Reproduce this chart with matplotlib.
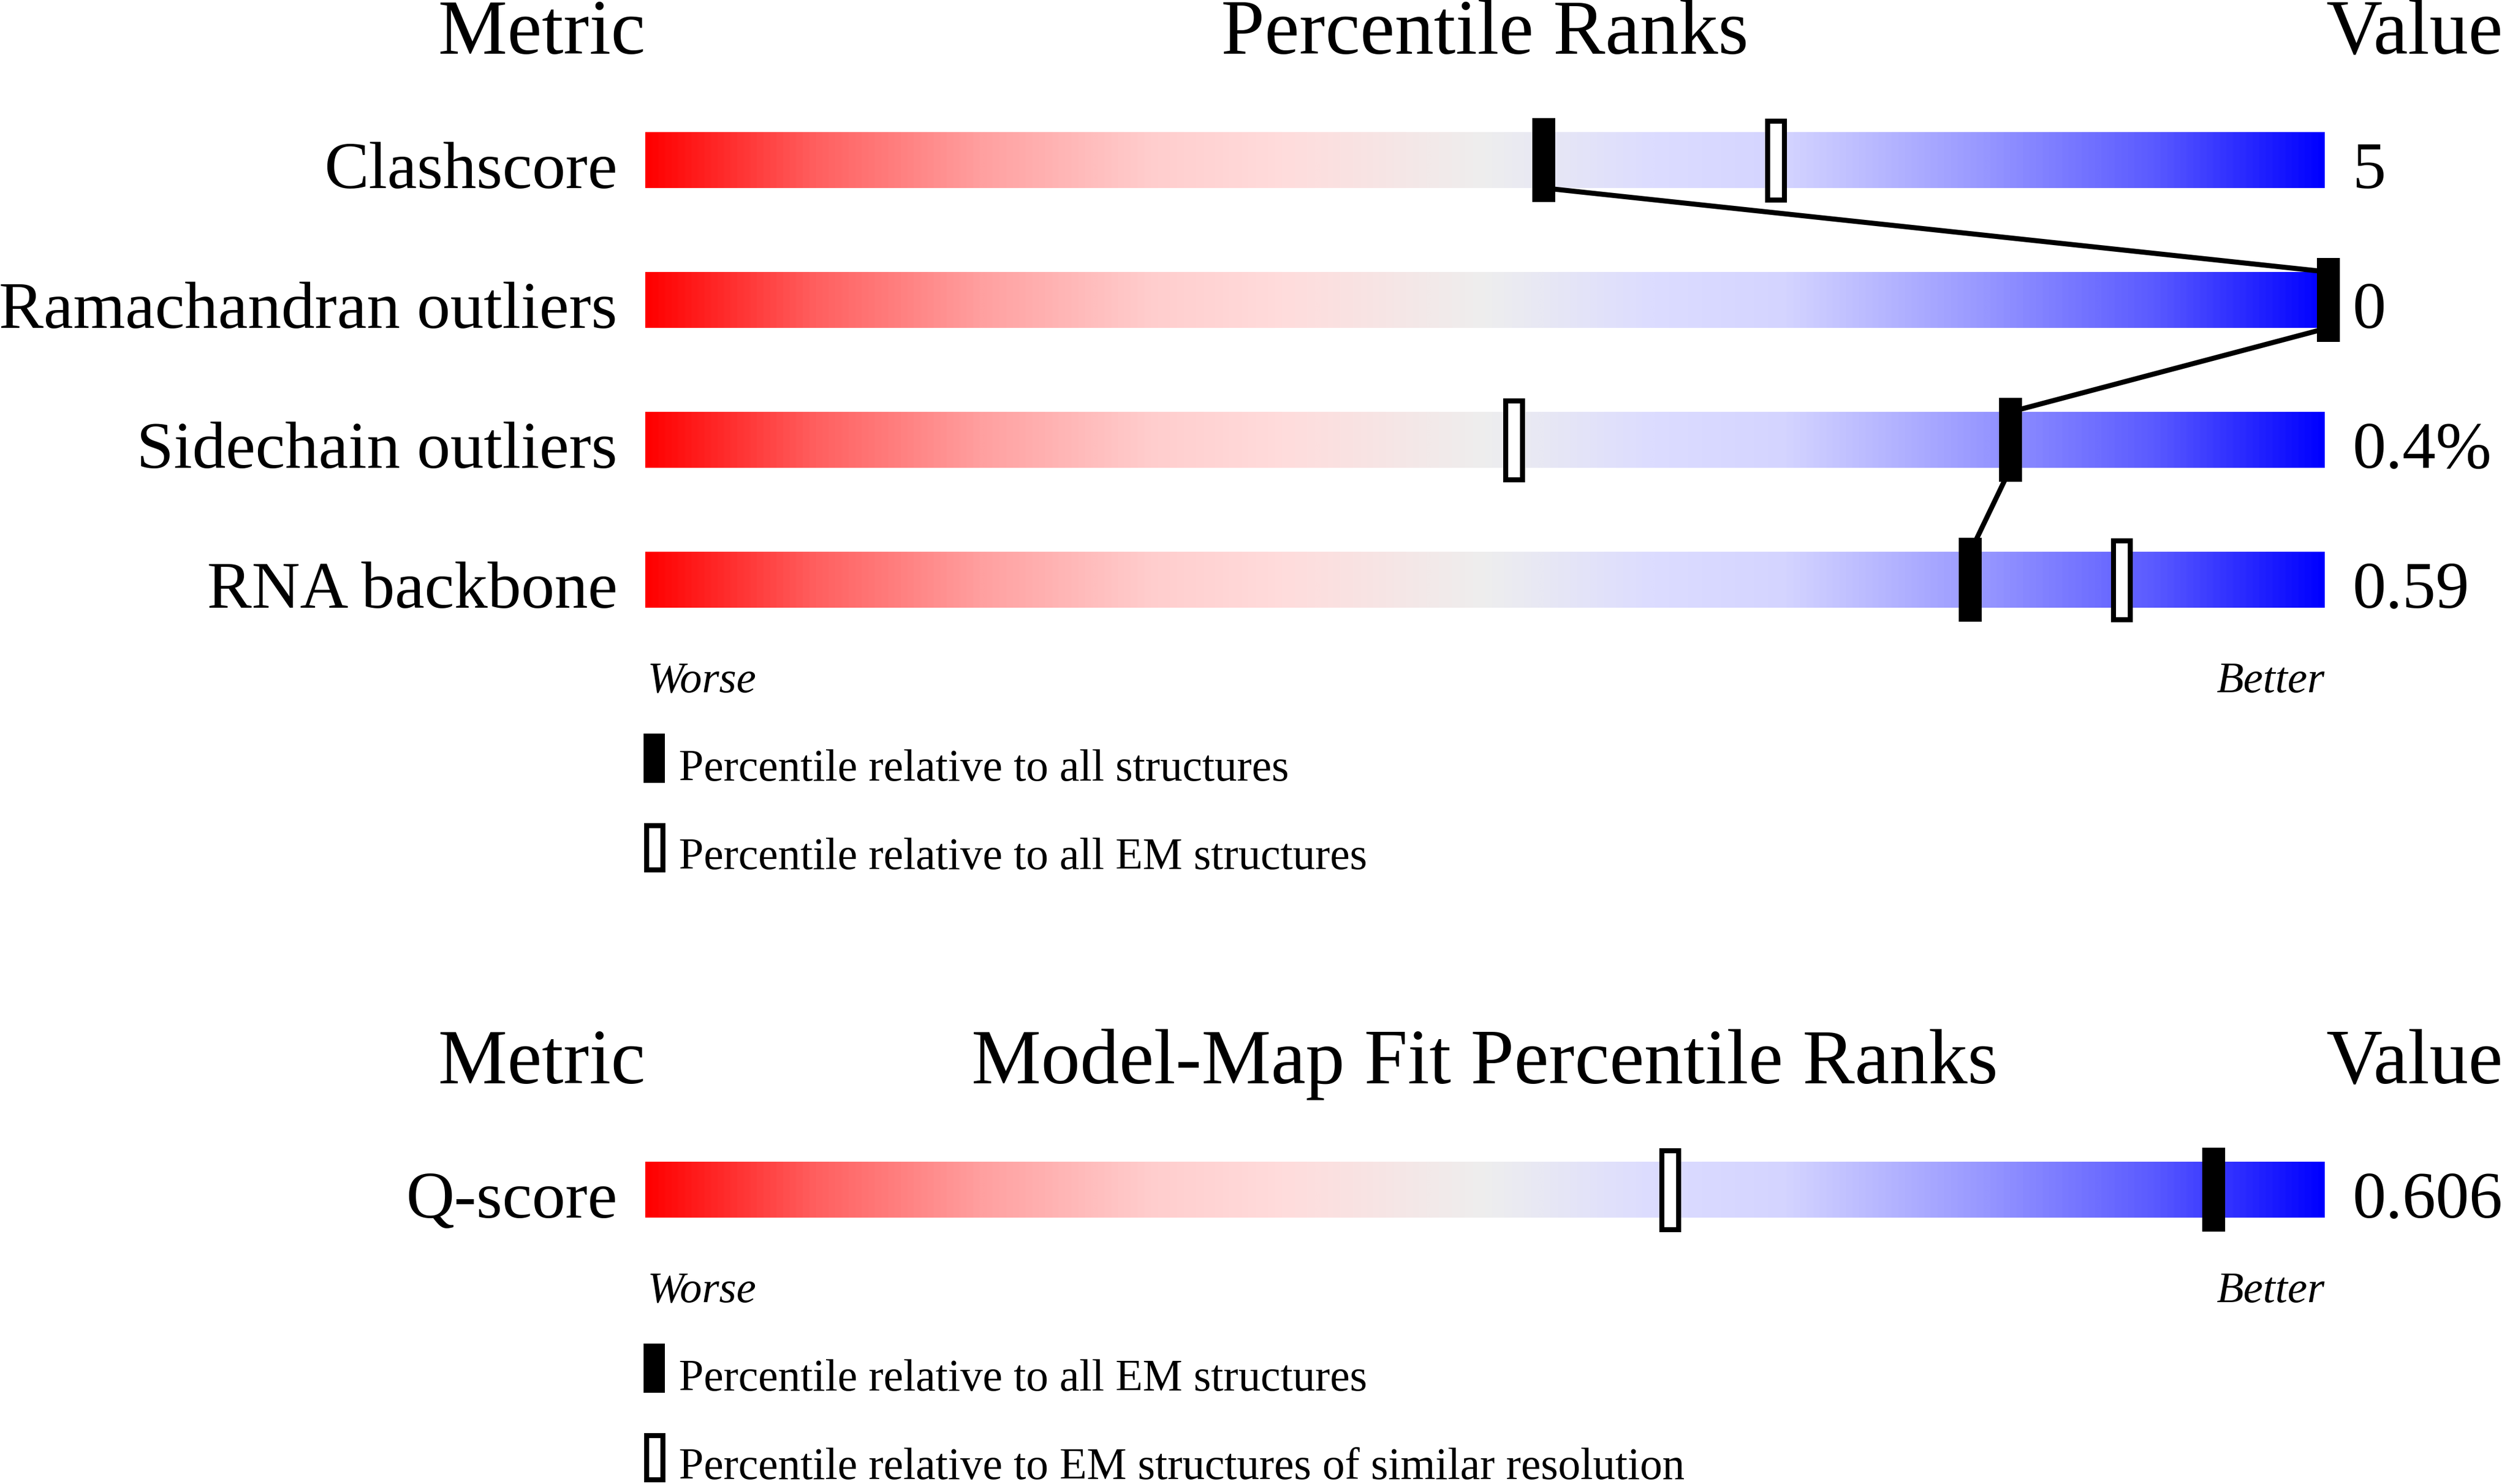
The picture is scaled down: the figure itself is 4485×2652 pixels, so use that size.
import numpy as np
import matplotlib
matplotlib.use("Agg")
import matplotlib.pyplot as plt
from matplotlib.colors import LinearSegmentedColormap
from matplotlib.patches import Rectangle

# ---- data ----
metrics = ["Clashscore", "Ramachandran outliers", "Sidechain outliers", "RNA backbone"]
values = ["5", "0", "0.4%", "0.59"]
pct_all = [53.5, 100.2, 81.3, 78.9]          # filled markers
pct_em = [67.3, np.nan, 51.7, 87.9]          # open markers
legend_top = ["Percentile relative to all structures",
              "Percentile relative to all EM structures"]

fit_metrics = ["Q-score"]
fit_values = ["0.606"]
fit_pct_em = [93.4]
fit_pct_similar = [61.0]
legend_bottom = ["Percentile relative to all EM structures",
                 "Percentile relative to EM structures of similar resolution"]

# ---- style ----
W, H, DPI = 4485, 2652, 100
FONT = "Liberation Serif"
BAR_L, BAR_W = 1153, 3001      # pixels
PITCH = 250                    # pixels per row
PX = 100.0 / BAR_W             # one pixel in x data units
PY = 1.0 / PITCH               # one pixel in y data units

stops = [(0.0, (255, 0, 0)), (0.1, (255, 95, 95)), (0.2, (255, 160, 160)),
         (0.3, (255, 205, 205)), (0.38, (255, 220, 220)), (0.5, (238, 238, 238)),
         (0.6, (220, 220, 255)), (0.68, (212, 212, 255)), (0.8, (150, 150, 255)),
         (0.9, (90, 90, 255)), (1.0, (0, 0, 255))]
cmap = LinearSegmentedColormap.from_list(
    "slider", [(p, tuple(c / 255 for c in rgb)) for p, rgb in stops])

fig = plt.figure(figsize=(W / DPI, H / DPI), dpi=DPI)


def put(ax, x, y, s, dx=0, size=86, **kw):
    ax.annotate(s, (x, y), xytext=(dx, 0), textcoords="offset pixels",
                fontsize=size, family=FONT, annotation_clip=False, **kw)


def filled(ax, x, y, w, h):
    ax.add_patch(Rectangle((x - w / 2, y - h / 2), w, h, facecolor="black",
                           edgecolor="none", clip_on=False, zorder=5))


def hollow(ax, x, y, w, h):
    ax.add_patch(Rectangle((x - w / 2, y - h / 2), w, h, facecolor="white",
                           edgecolor="black", linewidth=9 * 72 / DPI,
                           clip_on=False, zorder=5))


def panel(top_px, labels, vals, p_fill, p_open, title, legend):
    n = len(labels)
    ax = fig.add_axes([BAR_L / W, 1 - (top_px + n * PITCH) / H,
                       BAR_W / W, n * PITCH / H])
    grad = np.linspace(0, 1, 1024)[None, :]
    for i in range(n):
        ax.imshow(grad, cmap=cmap, aspect="auto", interpolation="bilinear",
                  extent=(0, 100, i + 0.2, i - 0.2), zorder=1)
        put(ax, 0, i + 0.2, labels[i], dx=-50, ha="right", va="baseline")
        put(ax, 100, i + 0.2, vals[i], dx=50, ha="left", va="baseline")
    # connecting line through the filled markers, bar edge to bar edge
    for i in range(n - 1):
        ax.plot([p_fill[i], p_fill[i + 1]], [i + 0.2, i + 0.8], color="black",
                lw=9 * 72 / DPI, solid_capstyle="butt", zorder=3, clip_on=False)
    for i in range(n):
        if not np.isnan(p_open[i]):
            hollow(ax, p_open[i], i, 30 * PX, 141 * PY)
        filled(ax, p_fill[i], i, 41 * PX, 150 * PY)

    # headers
    put(ax, 0, -0.76, "Metric", size=100, ha="right", va="baseline")
    put(ax, 50, -0.76, title, size=100.5, ha="center", va="baseline")
    put(ax, 100, -0.76, "Value", dx=2, size=100, ha="left", va="baseline")

    last = n - 1 + 0.2
    put(ax, 0, last + 0.604, "Worse", dx=4, size=57, style="italic",
        ha="left", va="baseline")
    put(ax, 100, last + 0.604, "Better", size=57, style="italic",
        ha="right", va="baseline")

    # legend
    lx = 16 * PX
    filled(ax, lx, last + 1.076, 38 * PX, 88 * PY)
    put(ax, 0, last + 1.236, legend[0], dx=60, size=57.5, ha="left", va="baseline")
    hollow(ax, lx, last + 1.712, 29 * PX, 79 * PY)
    put(ax, 0, last + 1.868, legend[1], dx=60, size=57.5, ha="left", va="baseline")

    ax.set_xlim(0, 100)
    ax.set_ylim(n - 0.5, -0.5)
    ax.axis("off")
    return ax


panel(161, metrics, values, pct_all, pct_em, "Percentile Ranks", legend_top)
panel(2001, fit_metrics, fit_values, fit_pct_em, fit_pct_similar,
      "Model-Map Fit Percentile Ranks", legend_bottom)

fig.savefig("out.png", dpi=DPI, facecolor="white")
